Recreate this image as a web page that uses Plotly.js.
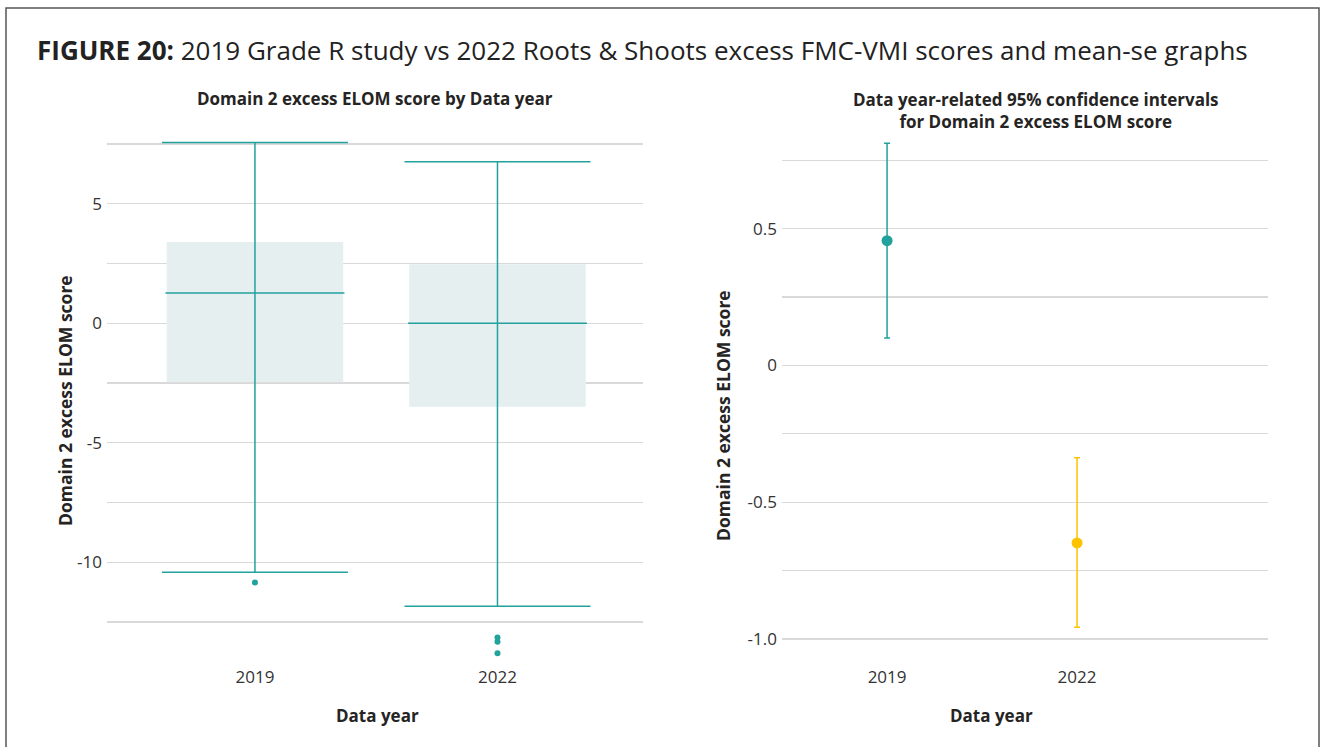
<!DOCTYPE html>
<html>
<head>
<meta charset="utf-8">
<script src="https://cdn.plot.ly/plotly-3.0.1.min.js"></script>
<style>
  html, body { margin: 0; padding: 0; background: #ffffff; }
  #chart { width: 1325px; height: 747px; }
</style>
</head>
<body>
<div id="chart"></div>
<script>
// ---- Data ----
const years = ['2019', '2022'];

// Box plot summary (Domain 2 excess ELOM score by Data year)
const boxQ1 = [-2.47, -3.49];
const boxMedian = [1.27, 0.0];
const boxQ3 = [3.40, 2.47];
const whiskerLow = [-10.42, -11.84];
const whiskerHigh = [7.56, 6.76];
const outlierYear = ['2019', '2022', '2022', '2022'];
const outlierValue = [-10.85, -13.15, -13.32, -13.81];

// 95% confidence intervals
const ciMean = [0.456, -0.649];
const ciLow = [0.100, -0.957];
const ciHigh = [0.812, -0.338];

// Tick labels
const leftTickVals = [-12.5, -10, -7.5, -5, -2.5, 0, 2.5, 5, 7.5];
const leftTickText = ['', '-10', '', '-5', '', '0', '', '5', ''];
const rightTickVals = [-1.0, -0.75, -0.5, -0.25, 0, 0.25, 0.5, 0.75];
const rightTickText = ['-1.0', '', '-0.5', '', '0', '', '0.5', ''];

// ---- Styles ----
const TEAL = '#21a29c';
const YELLOW = '#fdc300';
const BOXFILL = '#e6eff0';
const GRID = '#d9d9d9';
const FONT = 'Open Sans, Noto Sans, sans-serif';
const W = 1325, H = 747;
const ciColors = [TEAL, YELLOW];

const idx = years.map((_, i) => i);
const yearIndex = y => years.indexOf(y);
const BOX_WIDTH = 0.728;

const traces = [];

// Box body (IQR) as a floating bar
traces.push({
  type: 'bar', x: idx, base: boxQ1, y: boxQ3.map((q, i) => q - boxQ1[i]),
  width: BOX_WIDTH, marker: { color: BOXFILL, line: { width: 0 } },
  xaxis: 'x', yaxis: 'y', hoverinfo: 'skip', showlegend: false
});
// Whiskers with caps
traces.push({
  type: 'scatter', mode: 'markers', x: idx, y: boxMedian,
  marker: { size: 1, color: 'rgba(0,0,0,0)' },
  error_y: {
    type: 'data', symmetric: false,
    array: whiskerHigh.map((v, i) => v - boxMedian[i]),
    arrayminus: boxMedian.map((m, i) => m - whiskerLow[i]),
    color: TEAL, thickness: 1.5, width: 93
  },
  xaxis: 'x', yaxis: 'y', showlegend: false
});
// Median line
traces.push({
  type: 'scatter', mode: 'markers', x: idx, y: boxMedian,
  marker: { size: 1, color: 'rgba(0,0,0,0)' },
  error_x: { type: 'constant', value: BOX_WIDTH / 2 + 0.005, color: TEAL, thickness: 1.5, width: 0 },
  xaxis: 'x', yaxis: 'y', showlegend: false
});
// Outliers
traces.push({
  type: 'scatter', mode: 'markers', x: outlierYear.map(yearIndex), y: outlierValue,
  marker: { size: 6, color: TEAL },
  xaxis: 'x', yaxis: 'y', showlegend: false
});

// Confidence intervals
years.forEach((yr, i) => {
  traces.push({
    type: 'scatter', mode: 'markers', x: [i], y: [ciMean[i]],
    marker: { size: 11, color: ciColors[i] },
    error_y: {
      type: 'data', symmetric: false,
      array: [ciHigh[i] - ciMean[i]], arrayminus: [ciMean[i] - ciLow[i]],
      color: ciColors[i], thickness: 1.5, width: 3
    },
    xaxis: 'x2', yaxis: 'y2', showlegend: false
  });
});

const plotTop = 135, plotBottom = 662;
const yDomain = [(H - plotBottom) / H, (H - plotTop) / H];

const commonX = {
  tickmode: 'array', tickvals: idx, ticktext: years,
  showgrid: false, zeroline: false, showline: false, ticks: '',
  tickfont: { family: FONT, size: 17, color: '#333333' },
  ticklabelstandoff: 3
};
const commonY = {
  tickmode: 'array', showgrid: true, gridcolor: GRID, gridwidth: 1.3,
  zeroline: false, showline: false, ticks: '',
  tickfont: { family: FONT, size: 17, color: '#333333' },
  ticklabelstandoff: 4
};

const layout = {
  width: W, height: H,
  margin: { l: 0, r: 0, t: 0, b: 0, pad: 0 },
  paper_bgcolor: '#ffffff', plot_bgcolor: '#ffffff',
  showlegend: false,
  title: {
    text: '<b>FIGURE 20:</b> 2019 Grade R study vs 2022 Roots &amp; Shoots excess FMC-VMI scores and mean-se graphs',
    font: { family: FONT, size: 26, color: '#222222' },
    x: 37 / W, xanchor: 'left', xref: 'container',
    y: 1 - 51 / H, yanchor: 'middle', yref: 'container'
  },
  xaxis: Object.assign({}, commonX, { domain: [107 / W, 643 / W], range: [-0.61, 1.6], anchor: 'y' }),
  yaxis: Object.assign({}, commonY, {
    domain: yDomain, anchor: 'x',
    range: [(323.3 - plotBottom) / 23.9, (323.3 - plotTop) / 23.9],
    tickvals: leftTickVals, ticktext: leftTickText
  }),
  xaxis2: Object.assign({}, commonX, { domain: [782 / W, 1268 / W], range: [-0.553, 2.005], anchor: 'y2' }),
  yaxis2: Object.assign({}, commonY, {
    domain: yDomain, anchor: 'x2',
    range: [(365.4 - plotBottom) / 273.5, (365.4 - plotTop) / 273.5],
    tickvals: rightTickVals, ticktext: rightTickText
  }),
  annotations: [
    { text: '<b>Domain 2 excess ELOM score by Data year</b>', xref: 'paper', yref: 'paper',
      x: 375 / W, y: 1 - 99 / H, xanchor: 'center', yanchor: 'middle', showarrow: false,
      font: { family: FONT, size: 17, color: '#252423' } },
    { text: '<b>Data year-related 95% confidence intervals<br>for Domain 2 excess ELOM score</b>', xref: 'paper', yref: 'paper',
      x: 1036 / W, y: 1 - 110 / H, xanchor: 'center', yanchor: 'middle', showarrow: false,
      font: { family: FONT, size: 17, color: '#252423' } },
    { text: '<b>Domain 2 excess ELOM score</b>', xref: 'paper', yref: 'paper',
      x: 65 / W, y: 1 - 401 / H, xanchor: 'center', yanchor: 'middle', showarrow: false, textangle: -90,
      font: { family: FONT, size: 17.5, color: '#252423' } },
    { text: '<b>Domain 2 excess ELOM score</b>', xref: 'paper', yref: 'paper',
      x: 723 / W, y: 1 - 416 / H, xanchor: 'center', yanchor: 'middle', showarrow: false, textangle: -90,
      font: { family: FONT, size: 17.5, color: '#252423' } },
    { text: '<b>Data year</b>', xref: 'paper', yref: 'paper',
      x: 377 / W, y: 1 - 715 / H, xanchor: 'center', yanchor: 'middle', showarrow: false,
      font: { family: FONT, size: 17, color: '#252423' } },
    { text: '<b>Data year</b>', xref: 'paper', yref: 'paper',
      x: 991 / W, y: 1 - 715 / H, xanchor: 'center', yanchor: 'middle', showarrow: false,
      font: { family: FONT, size: 17, color: '#252423' } }
  ],
  shapes: [
    { type: 'rect', xref: 'paper', yref: 'paper', x0: 6 / W, x1: 1319 / W, y0: -0.05, y1: 1 - 8 / H,
      line: { color: '#555555', width: 1.5 }, fillcolor: 'rgba(0,0,0,0)', layer: 'below' }
  ]
};

Plotly.newPlot('chart', traces, layout, { displayModeBar: false, staticPlot: true });
</script>
</body>
</html>
